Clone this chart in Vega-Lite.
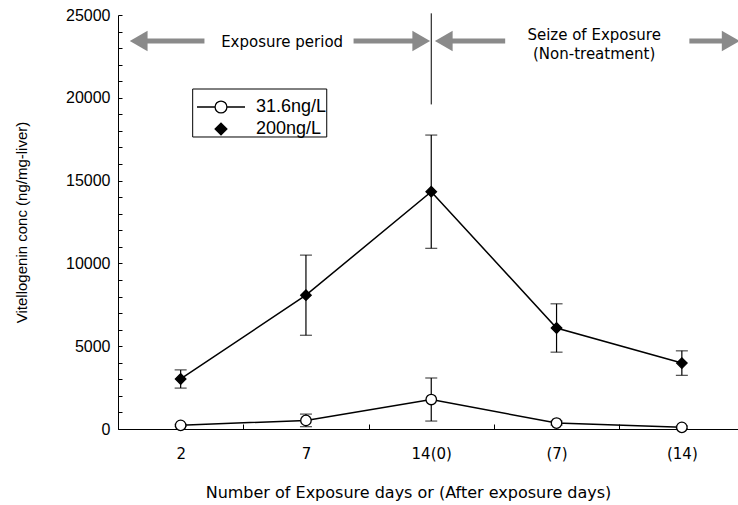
{
  "$schema": "https://vega.github.io/schema/vega-lite/v6.json",
  "width": 620,
  "height": 414,
  "autosize": {"type": "none"},
  "padding": {"left": 118, "top": 15, "right": 0, "bottom": 76},
  "background": "white",
  "config": {
    "view": {"stroke": null},
    "axis": {"grid": false, "domainColor": "black", "tickColor": "black", "labelColor": "black", "titleColor": "black", "titleFontWeight": "normal"},
    "legend": {"orient": "none", "title": null, "padding": 0, "symbolSize": 256, "symbolOffset": 14, "labelOffset": 26, "symbolStrokeColor": "black", "symbolStrokeWidth": 1.3, "symbolOpacity": 1, "labelFont": "Liberation Sans", "labelFontSize": 18, "labelColor": "black"}
  },
  "datasets": {
    "vtg": [
      {"day": "2", "conc": "31.6ng/L", "value": 220, "err": 60},
      {"day": "7", "conc": "31.6ng/L", "value": 520, "err": 380},
      {"day": "14(0)", "conc": "31.6ng/L", "value": 1780, "err": 1300},
      {"day": "(7)", "conc": "31.6ng/L", "value": 360, "err": 120},
      {"day": "(14)", "conc": "31.6ng/L", "value": 100, "err": 80},
      {"day": "2", "conc": "200ng/L", "value": 3020, "err": 550},
      {"day": "7", "conc": "200ng/L", "value": 8080, "err": 2420},
      {"day": "14(0)", "conc": "200ng/L", "value": 14330, "err": 3420},
      {"day": "(7)", "conc": "200ng/L", "value": 6100, "err": 1460},
      {"day": "(14)", "conc": "200ng/L", "value": 3980, "err": 740}
    ],
    "sep": [{"day": "14(0)", "value": 19600, "hi": 25100}],
    "legendBox": [{"a": 1.096, "b": 2.166, "value": 20531, "lo": 17633}],
    "shafts": [
      {"a": 0.665, "b": 1.19, "value": 23430},
      {"a": 2.38, "b": 2.92, "value": 23430},
      {"a": 3.1, "b": 3.59, "value": 23430},
      {"a": 5.06, "b": 5.39, "value": 23430}
    ],
    "headsLeft": [
      {"a": 0.665, "value": 23430},
      {"a": 3.1, "value": 23430}
    ],
    "headsRight": [
      {"a": 2.92, "value": 23430},
      {"a": 5.39, "value": 23430}
    ],
    "notes": [
      {"a": 1.81, "value": 23370, "text": "Exposure period"},
      {"a": 4.3, "value": 23790, "text": "Seize of Exposure"},
      {"a": 4.3, "value": 22645, "text": "(Non-treatment)"}
    ]
  },
  "encoding": {
    "y": {
      "field": "value", "type": "quantitative",
      "scale": {"domain": [0, 25000], "nice": false},
      "axis": {
        "title": "Vitellogenin conc (ng/mg-liver)",
        "values": [0, 1000, 2000, 3000, 4000, 5000, 6000, 7000, 8000, 9000, 10000, 11000, 12000, 13000, 14000, 15000, 16000, 17000, 18000, 19000, 20000, 21000, 22000, 23000, 24000, 25000],
        "labelExpr": "datum.value % 5000 === 0 ? format(datum.value, 'd') : ''",
        "labelOverlap": false, "tickSize": -4,
        "labelFont": "Liberation Sans", "labelFontSize": 16, "labelPadding": 12,
        "titleFont": "Liberation Sans", "titleFontSize": 15, "titlePadding": 36
      }
    }
  },
  "layer": [
    {
      "encoding": {
        "x": {"field": "a", "type": "quantitative", "scale": {"domain": [0.5, 5.5], "range": [0, 626.5], "nice": false, "zero": false}, "axis": null}
      },
      "layer": [
        {
          "data": {"name": "legendBox"},
          "mark": {"type": "rect", "fill": "white", "stroke": "black", "strokeWidth": 1},
          "encoding": {"x2": {"field": "b"}, "y2": {"field": "lo"}}
        },
        {
          "data": {"name": "shafts"},
          "mark": {"type": "rule", "color": "#8a8a8a", "strokeWidth": 5},
          "encoding": {"x2": {"field": "b"}}
        },
        {
          "data": {"name": "headsLeft"},
          "mark": {"type": "point", "filled": true, "color": "#8a8a8a", "opacity": 1, "size": 420, "shape": "triangle-left"}
        },
        {
          "data": {"name": "headsRight"},
          "mark": {"type": "point", "filled": true, "color": "#8a8a8a", "opacity": 1, "size": 420, "shape": "triangle-right"}
        },
        {
          "data": {"name": "notes"},
          "mark": {"type": "text", "font": "DejaVu Sans", "fontSize": 15, "color": "black", "align": "center", "baseline": "middle"},
          "encoding": {"text": {"field": "text"}}
        }
      ]
    },
    {
      "encoding": {
        "x": {
          "field": "day", "type": "nominal",
          "scale": {"domain": ["2", "7", "14(0)", "(7)", "(14)"], "range": [0, 626.5], "paddingInner": 0, "paddingOuter": 0},
          "axis": {
            "title": "Number of Exposure days or (After exposure days)",
            "labelAngle": 0, "tickBand": "extent", "tickSize": -5,
            "labelFont": "DejaVu Sans", "labelFontSize": 15, "labelPadding": 22,
            "titleFont": "DejaVu Sans", "titleFontSize": 16, "titlePadding": 23, "titleX": 290
          }
        }
      },
      "layer": [
        {
          "data": {"name": "vtg"},
          "mark": {"type": "errorbar", "color": "black", "thickness": 1.2, "ticks": {"size": 12, "thickness": 1.2, "color": "black"}},
          "encoding": {"yError": {"field": "err"}, "detail": {"field": "conc"}}
        },
        {
          "data": {"name": "sep"},
          "mark": {"type": "rule", "color": "black", "strokeWidth": 1},
          "encoding": {"y2": {"field": "hi"}}
        },
        {
          "data": {"name": "vtg"},
          "mark": {"type": "line", "color": "black", "strokeWidth": 1.5},
          "encoding": {"detail": {"field": "conc"}}
        },
        {
          "data": {"name": "vtg"},
          "mark": {"type": "point", "filled": true, "stroke": "black", "strokeWidth": 1.3, "opacity": 1, "size": 110},
          "encoding": {
            "shape": {
              "field": "conc", "type": "nominal",
              "scale": {"domain": ["31.6ng/L", "200ng/L"], "range": ["circle", "diamond"]},
              "legend": null
            },
            "fill": {
              "field": "conc", "type": "nominal",
              "scale": {"domain": ["31.6ng/L", "200ng/L"], "range": ["white", "black"]},
              "legend": null
            }
          }
        },
        {
          "data": {"name": "vtg"},
          "transform": [{"filter": "datum.conc === '31.6ng/L'"}],
          "mark": {"type": "point", "filled": false, "opacity": 0, "size": 1},
          "encoding": {
            "shape": {
              "field": "conc", "type": "nominal",
              "scale": {"domain": ["31.6ng/L"], "range": ["M-3,0H-0.74M0.74,0H3M-0.74,0A0.74,0.74 0 1,0 0.74,0A0.74,0.74 0 1,0 -0.74,0Z"]},
              "legend": {"legendX": 80, "legendY": 83, "symbolFillColor": "white"}
            }
          }
        },
        {
          "data": {"name": "vtg"},
          "transform": [{"filter": "datum.conc === '200ng/L'"}],
          "mark": {"type": "point", "filled": false, "fill": "black", "opacity": 0, "size": 1},
          "encoding": {
            "shape": {
              "field": "conc", "type": "nominal",
              "scale": {"domain": ["200ng/L"], "range": ["M-3,0H3M0,-0.85L0.85,0L0,0.85L-0.85,0Z"]},
              "legend": {"legendX": 80, "legendY": 105, "symbolFillColor": "black"}
            }
          }
        }
      ],
      "resolve": {"scale": {"shape": "independent", "fill": "independent"}, "legend": {"shape": "independent"}}
    }
  ],
  "resolve": {"scale": {"x": "independent"}}
}
